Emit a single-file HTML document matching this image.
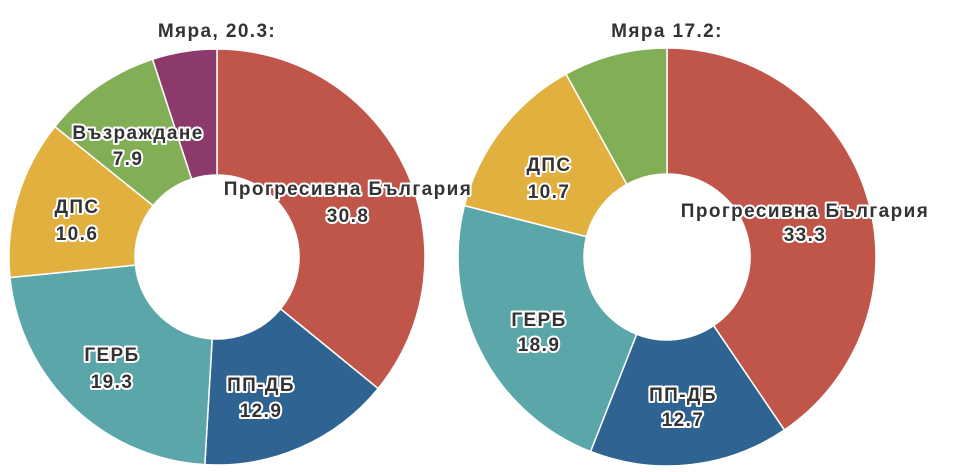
<!DOCTYPE html>
<html><head><meta charset="utf-8"><style>
html,body{margin:0;padding:0;background:#fff;width:960px;height:472px;overflow:hidden}
text{font-family:"Liberation Sans","DejaVu Sans",sans-serif;font-weight:bold;fill:#333}
.l{font-size:19px;letter-spacing:1.4px;text-anchor:middle;paint-order:stroke;stroke:#fff;stroke-width:4px;stroke-linejoin:round}
.t{font-size:19px;letter-spacing:1.4px;text-anchor:middle}
</style></head><body>
<svg id="s" width="960" height="472" xmlns="http://www.w3.org/2000/svg">
<text class="t" x="217" y="37">Мяра, 20.3:</text>
<text class="t" x="667" y="37">Мяра 17.2:</text>
<g id="p"></g>
<g>
<text class="l" x="138" y="139">Възраждане</text><text class="l" x="128" y="165">7.9</text>
<text class="l" x="77" y="213">ДПС</text><text class="l" x="77" y="240">10.6</text>
<text class="l" x="348" y="195">Прогресивна България</text><text class="l" x="348" y="222">30.8</text>
<text class="l" x="112" y="361">ГЕРБ</text><text class="l" x="112" y="388">19.3</text>
<text class="l" x="261" y="391">ПП-ДБ</text><text class="l" x="261" y="417">12.9</text>
<text class="l" x="549" y="171">ДПС</text><text class="l" x="549" y="198">10.7</text>
<text class="l" x="805" y="217">Прогресивна България</text><text class="l" x="805" y="241">33.3</text>
<text class="l" x="539" y="326">ГЕРБ</text><text class="l" x="539" y="351">18.9</text>
<text class="l" x="683" y="401">ПП-ДБ</text><text class="l" x="683" y="426">12.7</text>
</g>
</svg>
<script>
function donut(cx,cy,R,r,vals,cols){
 var t=vals.reduce(function(a,b){return a+b},0),a=0,out='';
 vals.forEach(function(v,i){
  var a0=a/t*2*Math.PI,a1=(a+v)/t*2*Math.PI;a+=v;
  var P=function(rad,an){return (cx+rad*Math.sin(an)).toFixed(2)+','+(cy-rad*Math.cos(an)).toFixed(2)};
  var lg=(a1-a0)>Math.PI?1:0;
  out+='<path d="M'+P(R,a0)+'A'+R+','+R+' 0 '+lg+' 1 '+P(R,a1)+'L'+P(r,a1)+'A'+r+','+r+' 0 '+lg+' 0 '+P(r,a0)+'Z" fill="'+cols[i]+'" stroke="#fff" stroke-width="1.5"/>';
 });
 return out;
}
var C={r:'#c0564a',b:'#2f6391',t:'#5ba6a8',y:'#e2b03f',g:'#82ae56',p:'#8b3a6b'};
document.getElementById('p').innerHTML=
 donut(217,257,208,82,[30.8,12.9,19.3,10.6,7.9,4.3],[C.r,C.b,C.t,C.y,C.g,C.p])+
 donut(667,257,209,83,[33.3,12.7,18.9,10.7,6.6],[C.r,C.b,C.t,C.y,C.g]);
</script>
</body></html>
